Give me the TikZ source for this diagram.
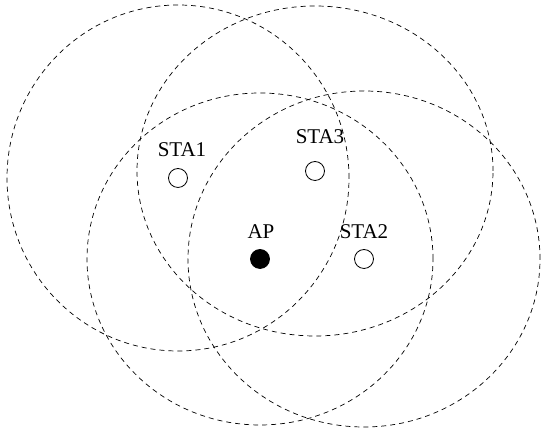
\documentclass[tikz,border=0pt]{standalone}
\usepackage{fontspec}
\setmainfont{Liberation Serif}
\usetikzlibrary{positioning}
\tikzset{
  station/.style={draw,circle,minimum size=19pt,inner sep=0pt,line width=0.8pt},
  apnode/.style={station,fill=black},
  coverage/.style={dash pattern=on 5pt off 4pt,line width=0.7pt},
  tag/.style={font=\fontsize{21}{24}\selectfont,inner sep=0pt}
}

\begin{document}
\begin{tikzpicture}[x=1pt,y=1pt]
\useasboundingbox (0,0) rectangle (541,430);
% stations and access point
\node[apnode] (ap) at (260,171) {};
\node[station] (sta1) at (178,252) {};
\node[station] (sta2) at (364,171) {};
\node[station] (sta3) at (315,259) {};
% names
\node[tag,above=11pt of sta1,xshift=4pt] (lsta1) {STA1};
\node[tag,above=17pt of sta3,xshift=5pt] (lsta3) {STA3};
\node[tag,above=10pt of ap,xshift=1pt] (lap) {AP};
\node[tag,above=10pt of sta2] (lsta2) {STA2};
% transmission ranges
\draw[coverage] (sta1) ellipse [x radius=171pt,y radius=173pt];
\draw[coverage] (sta3) ellipse [x radius=178pt,y radius=165pt];
\draw[coverage] (ap) ellipse [x radius=173pt,y radius=166pt];
\draw[coverage] (sta2) ellipse [x radius=176pt,y radius=168pt];
\end{tikzpicture}
\end{document}
